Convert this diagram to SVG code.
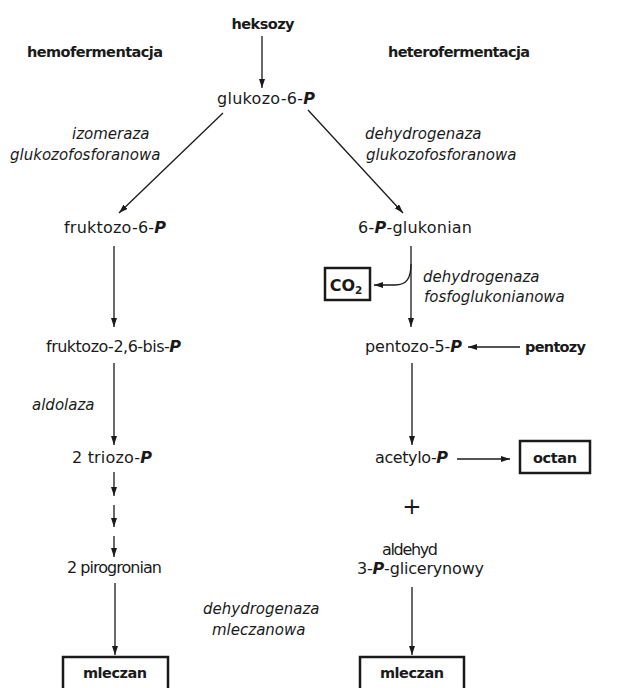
<svg xmlns="http://www.w3.org/2000/svg" width="623" height="688" viewBox="0 0 623 688">
<defs>
<marker id="ah" markerUnits="userSpaceOnUse" markerWidth="9" markerHeight="6" refX="9" refY="3" orient="auto">
<path d="M0,0 L9,3 L0,6 z" fill="#1a1a1a"/>
</marker>
<style>
.t{font-family:"DejaVu Sans","Liberation Sans",sans-serif;font-size:16px;fill:#1a1a1a;text-anchor:middle}
.b{font-family:"DejaVu Sans","Liberation Sans",sans-serif;font-size:14.5px;font-weight:bold;fill:#1a1a1a}
.i{font-family:"DejaVu Sans","Liberation Sans",sans-serif;font-size:15px;font-style:italic;fill:#1a1a1a}
.p{font-weight:bold;font-style:italic}
.box{fill:none;stroke:#1a1a1a;stroke-width:2.5}
.c line,.c path{stroke:#1a1a1a;stroke-width:1.3;fill:none;marker-end:url(#ah)}
</style>
</defs>
<rect width="623" height="688" fill="#fff"/>

<g id="labels">
<text class="b" x="27" y="57" textLength="136">hemofermentacja</text>
<text class="b" x="388" y="57" textLength="142">heterofermentacja</text>
<text class="i" x="72" y="139">izomeraza</text>
<text class="i" x="10" y="160">glukozofosforanowa</text>
<text class="i" x="365" y="139">dehydrogenaza</text>
<text class="i" x="366" y="160">glukozofosforanowa</text>
<text class="i" x="423" y="282">dehydrogenaza</text>
<text class="i" x="424" y="302">fosfoglukonianowa</text>
<text class="i" x="32" y="410">aldolaza</text>
<text class="i" x="203" y="614">dehydrogenaza</text>
<text class="i" x="212" y="635">mleczanowa</text>
</g>

<g id="heksozy"><text class="b" x="263" y="29" text-anchor="middle" textLength="63">heksozy</text></g>
<g id="glukozo6p"><text class="t" x="266" y="104" textLength="98">glukozo-6-<tspan class="p">P</tspan></text></g>
<g id="fruktozo6p"><text class="t" x="115" y="233" textLength="102">fruktozo-6-<tspan class="p">P</tspan></text></g>
<g id="glukonian"><text class="t" x="415" y="233" textLength="114">6-<tspan class="p">P</tspan>-glukonian</text></g>
<g id="co2"><rect class="box" x="325" y="268" width="45" height="32"/><text class="b" x="346" y="291" text-anchor="middle" style="font-size:16px">CO<tspan style="font-size:10.5px" dy="3">2</tspan></text></g>
<g id="fruktozobis"><text class="t" x="113.5" y="352" textLength="135">fruktozo-2,6-bis-<tspan class="p">P</tspan></text></g>
<g id="pentozo5p"><text class="t" x="413.5" y="352" textLength="97">pentozo-5-<tspan class="p">P</tspan></text></g>
<g id="pentozy"><text class="b" x="525" y="352" textLength="61">pentozy</text></g>
<g id="triozo"><text class="t" x="112" y="463" textLength="80">2 triozo-<tspan class="p">P</tspan></text></g>
<g id="acetylo"><text class="t" x="411.5" y="463" textLength="73">acetylo-<tspan class="p">P</tspan></text></g>
<g id="octan"><rect class="box" x="520" y="441" width="70" height="32"/><text class="b" x="555" y="463" text-anchor="middle" textLength="44">octan</text></g>
<g id="plus"><text class="t" x="412" y="514" style="font-size:23px">+</text></g>
<g id="pirogronian"><text class="t" x="114.5" y="573" textLength="95">2 pirogronian</text></g>
<g id="aldehyd"><text class="t" x="410" y="555" textLength="56">aldehyd</text><text class="t" x="420.5" y="574" textLength="127">3-<tspan class="p">P</tspan>-glicerynowy</text></g>
<g id="mleczan1"><rect class="box" x="63" y="657" width="105" height="45"/><text class="b" x="115" y="678" text-anchor="middle" textLength="64">mleczan</text></g>
<g id="mleczan2"><rect class="box" x="360" y="657" width="104" height="45"/><text class="b" x="412" y="678" text-anchor="middle" textLength="64">mleczan</text></g>

<g id="connectors" class="c">
<line x1="262" y1="36" x2="262" y2="88"/>
<line x1="223" y1="113" x2="119" y2="213"/>
<line x1="308" y1="110" x2="403" y2="213"/>
<line x1="114" y1="246" x2="114" y2="327"/>
<line x1="411" y1="246" x2="411" y2="327"/>
<path d="M411,264 C411,279 406,285 395,285 L374,285"/>
<line x1="520" y1="347" x2="468" y2="347"/>
<line x1="412" y1="363" x2="412" y2="445"/>
<line x1="457" y1="459" x2="510" y2="459"/>
<line x1="114" y1="363" x2="114" y2="445"/>
<line x1="114" y1="472" x2="114" y2="496"/>
<line x1="114" y1="505" x2="114" y2="527"/>
<line x1="114" y1="536" x2="114" y2="557"/>
<line x1="115" y1="583" x2="115" y2="655"/>
<line x1="412" y1="587" x2="412" y2="655"/>
</g>
</svg>
